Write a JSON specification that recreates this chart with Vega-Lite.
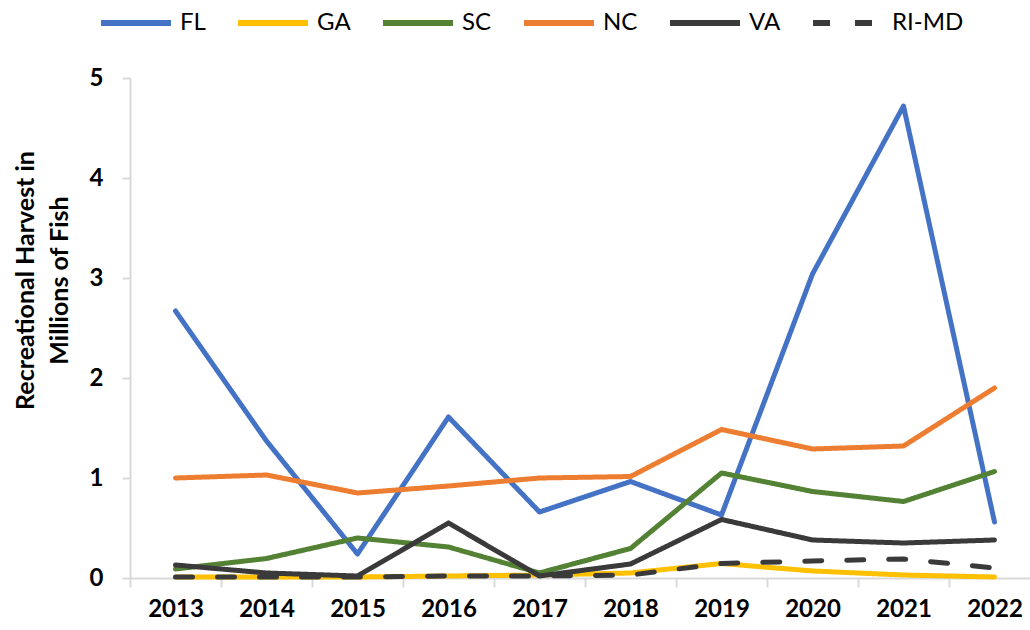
{
  "$schema": "https://vega.github.io/schema/vega-lite/v6.json",
  "width": 910,
  "height": 500,
  "autosize": {"type": "none"},
  "padding": {"left": 130, "top": 78, "right": 0, "bottom": 52},
  "config": {"view": {"stroke": null}, "font": "Lato"},
  "data": {"values": [
    {"state": "FL", "year": "2013", "harvest": 2.67},
    {"state": "FL", "year": "2014", "harvest": 1.37},
    {"state": "FL", "year": "2015", "harvest": 0.24},
    {"state": "FL", "year": "2016", "harvest": 1.61},
    {"state": "FL", "year": "2017", "harvest": 0.66},
    {"state": "FL", "year": "2018", "harvest": 0.965},
    {"state": "FL", "year": "2019", "harvest": 0.63},
    {"state": "FL", "year": "2020", "harvest": 3.04},
    {"state": "FL", "year": "2021", "harvest": 4.72},
    {"state": "FL", "year": "2022", "harvest": 0.56},
    {"state": "GA", "year": "2013", "harvest": 0.01},
    {"state": "GA", "year": "2014", "harvest": 0.01},
    {"state": "GA", "year": "2015", "harvest": 0.01},
    {"state": "GA", "year": "2016", "harvest": 0.02},
    {"state": "GA", "year": "2017", "harvest": 0.03},
    {"state": "GA", "year": "2018", "harvest": 0.05},
    {"state": "GA", "year": "2019", "harvest": 0.145},
    {"state": "GA", "year": "2020", "harvest": 0.07},
    {"state": "GA", "year": "2021", "harvest": 0.03},
    {"state": "GA", "year": "2022", "harvest": 0.01},
    {"state": "SC", "year": "2013", "harvest": 0.09},
    {"state": "SC", "year": "2014", "harvest": 0.195},
    {"state": "SC", "year": "2015", "harvest": 0.40},
    {"state": "SC", "year": "2016", "harvest": 0.31},
    {"state": "SC", "year": "2017", "harvest": 0.05},
    {"state": "SC", "year": "2018", "harvest": 0.295},
    {"state": "SC", "year": "2019", "harvest": 1.05},
    {"state": "SC", "year": "2020", "harvest": 0.865},
    {"state": "SC", "year": "2021", "harvest": 0.765},
    {"state": "SC", "year": "2022", "harvest": 1.065},
    {"state": "NC", "year": "2013", "harvest": 1.0},
    {"state": "NC", "year": "2014", "harvest": 1.03},
    {"state": "NC", "year": "2015", "harvest": 0.85},
    {"state": "NC", "year": "2016", "harvest": 0.92},
    {"state": "NC", "year": "2017", "harvest": 1.0},
    {"state": "NC", "year": "2018", "harvest": 1.015},
    {"state": "NC", "year": "2019", "harvest": 1.485},
    {"state": "NC", "year": "2020", "harvest": 1.29},
    {"state": "NC", "year": "2021", "harvest": 1.32},
    {"state": "NC", "year": "2022", "harvest": 1.90},
    {"state": "VA", "year": "2013", "harvest": 0.13},
    {"state": "VA", "year": "2014", "harvest": 0.05},
    {"state": "VA", "year": "2015", "harvest": 0.02},
    {"state": "VA", "year": "2016", "harvest": 0.55},
    {"state": "VA", "year": "2017", "harvest": 0.02},
    {"state": "VA", "year": "2018", "harvest": 0.14},
    {"state": "VA", "year": "2019", "harvest": 0.585},
    {"state": "VA", "year": "2020", "harvest": 0.38},
    {"state": "VA", "year": "2021", "harvest": 0.35},
    {"state": "VA", "year": "2022", "harvest": 0.38},
    {"state": "RI-MD", "year": "2013", "harvest": 0.01},
    {"state": "RI-MD", "year": "2014", "harvest": 0.01},
    {"state": "RI-MD", "year": "2015", "harvest": 0.01},
    {"state": "RI-MD", "year": "2016", "harvest": 0.02},
    {"state": "RI-MD", "year": "2017", "harvest": 0.02},
    {"state": "RI-MD", "year": "2018", "harvest": 0.03},
    {"state": "RI-MD", "year": "2019", "harvest": 0.145},
    {"state": "RI-MD", "year": "2020", "harvest": 0.17},
    {"state": "RI-MD", "year": "2021", "harvest": 0.19},
    {"state": "RI-MD", "year": "2022", "harvest": 0.10}
  ]},
  "mark": {"type": "line", "strokeWidth": 5, "strokeCap": "round", "strokeJoin": "round"},
  "encoding": {
    "x": {
      "field": "year", "type": "ordinal", "sort": null,
      "scale": {"type": "band", "paddingInner": 0, "paddingOuter": 0},
      "axis": {
        "title": null, "labelAngle": 0, "labelFontSize": 24, "labelFontWeight": "bold", "labelColor": "#000000",
        "labelPadding": 10, "tickBand": "extent", "tickSize": 9, "tickWidth": 2, "tickColor": "#D9D9D9",
        "domainColor": "#D9D9D9", "domainWidth": 2, "grid": false
      }
    },
    "y": {
      "field": "harvest", "type": "quantitative",
      "scale": {"domain": [0, 5], "nice": false},
      "axis": {
        "values": [0, 1, 2, 3, 4, 5], "grid": false,
        "labelFontSize": 24, "labelFontWeight": "bold", "labelColor": "#000000", "labelPadding": 19,
        "tickSize": 8, "tickWidth": 2, "tickColor": "#D9D9D9", "domainColor": "#D9D9D9", "domainWidth": 2,
        "title": ["Recreational Harvest in", "Millions of Fish"],
        "titleFontSize": 25, "titleFontWeight": "bold", "titleColor": "#000000", "titleLineHeight": 34,
        "titlePadding": 17, "titleY": 202
      }
    },
    "color": {
      "field": "state", "type": "nominal",
      "scale": {"domain": ["FL", "GA", "SC", "NC", "VA", "RI-MD"], "range": ["#4472C4", "#FFC000", "#548235", "#ED7D31", "#3A3A3A", "#3A3A3A"]},
      "legend": {
        "title": null, "orient": "none", "legendX": -32, "legendY": -93, "direction": "horizontal",
        "symbolType": "stroke", "symbolSize": 4900, "symbolStrokeWidth": 6,
        "labelFontSize": 24, "labelColor": "#000000", "labelOffset": 6, "columnPadding": 20
      }
    },
    "strokeDash": {
      "field": "state", "type": "nominal",
      "scale": {"domain": ["FL", "GA", "SC", "NC", "VA", "RI-MD"], "range": [[1, 0], [1, 0], [1, 0], [1, 0], [1, 0], [17, 25]]},
      "legend": {
        "title": null, "orient": "none", "legendX": -32, "legendY": -93, "direction": "horizontal",
        "symbolType": "stroke", "symbolSize": 4900, "symbolStrokeWidth": 6,
        "labelFontSize": 24, "labelColor": "#000000", "labelOffset": 6, "columnPadding": 20
      }
    }
  }
}
